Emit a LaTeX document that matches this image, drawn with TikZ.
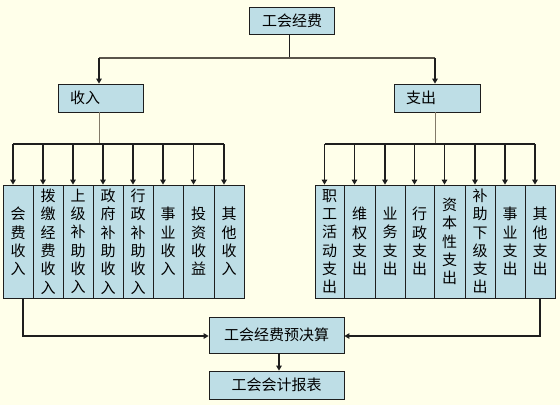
\documentclass[tikz,border=0pt]{standalone}
\usepackage{fontspec}
\newfontfamily\cjk{Noto Sans CJK SC}
\usetikzlibrary{arrows.meta,calc}
\definecolor{bgc}{RGB}{255,255,234}
\definecolor{boxc}{RGB}{190,222,230}
\definecolor{lnc}{RGB}{30,30,30}
\definecolor{stemc}{RGB}{130,122,105}
\begin{document}
\begin{tikzpicture}[x=1pt,y=-1pt,
  hbox/.style={draw=lnc,line width=0.8pt,fill=boxc,inner sep=0pt,font=\cjk\fontsize{15}{18}\selectfont},
  vbox/.style={draw=lnc,line width=0.8pt,fill=boxc,inner sep=0pt,minimum height=113pt,align=center,font=\cjk\fontsize{15}{18.3}\selectfont},
  bus/.style={draw=lnc,line width=1.2pt},
  stem/.style={draw=stemc,line width=1pt},
  arr/.style={draw=lnc,line width=1.6pt,-{Triangle[length=5pt,width=5.5pt]}},
  harr/.style={draw=lnc,line width=1.3pt,-{Triangle[length=5pt,width=5.5pt]}}]
\fill[bgc] (0,0) rectangle (560,405);
\useasboundingbox (0,0) rectangle (560,405);
% top
\node[hbox,minimum width=85pt,minimum height=27pt] (top) at (292,20.5) {工会经费};
\node[hbox,minimum height=28pt,text width=61pt,align=left,inner xsep=12pt] (shouru) at (100.5,98) {收入};
\node[hbox,minimum height=28pt,text width=62pt,align=left,inner xsep=12pt] (zhichu) at (437,98) {支出};
% income
\node[vbox,minimum width=30pt] (i1) at (18,241.5) {会\\费\\收\\入};
\node[vbox,minimum width=30pt] (i2) at (48,241.5) {拨\\缴\\经\\费\\收\\入};
\node[vbox,minimum width=30pt] (i3) at (78,241.5) {上\\级\\补\\助\\收\\入};
\node[vbox,minimum width=30pt] (i4) at (108,241.5) {政\\府\\补\\助\\收\\入};
\node[vbox,minimum width=30pt] (i5) at (138,241.5) {行\\政\\补\\助\\收\\入};
\node[vbox,minimum width=30pt] (i6) at (168,241.5) {事\\业\\收\\入};
\node[vbox,minimum width=31pt] (i7) at (198.5,241.5) {投\\资\\收\\益};
\node[vbox,minimum width=30pt] (i8) at (229,241.5) {其\\他\\收\\入};
% expense
\node[vbox,minimum width=29pt] (e1) at (329.5,241.5) {职\\工\\活\\动\\支\\出};
\node[vbox,minimum width=31pt] (e2) at (359.5,241.5) {维\\权\\支\\出};
\node[vbox,minimum width=30pt] (e3) at (390,241.5) {业\\务\\支\\出};
\node[vbox,minimum width=29pt] (e4) at (419.5,241.5) {行\\政\\支\\出};
\node[vbox,minimum width=31pt] (e5) at (449.5,241.5) {资\\本\\性\\支\\出};
\node[vbox,minimum width=30pt] (e6) at (480,241.5) {补\\助\\下\\级\\支\\出};
\node[vbox,minimum width=30pt] (e7) at (510,241.5) {事\\业\\支\\出};
\node[vbox,minimum width=30pt] (e8) at (540,241.5) {其\\他\\支\\出};
% bottom
\node[hbox,minimum width=135pt,minimum height=36pt] (ys) at (276.5,335) {工会经费预决算};
\node[hbox,minimum width=135pt,minimum height=28pt] (bb) at (276.5,385) {工会会计报表};
% connectors top
\coordinate (tb) at (289,58);
\draw[stem,draw=lnc] ([xshift=-3pt]top.south) -- (tb);
\draw[bus,draw=stemc!60!lnc] ([xshift=-1.5pt]shouru.north |- tb) -- ([xshift=-2pt]zhichu.north |- tb);
\draw[arr] ([xshift=-1.5pt]shouru.north |- tb) -- ([xshift=-1.5pt]shouru.north);
\draw[arr] ([xshift=-2pt]zhichu.north |- tb) -- ([xshift=-2pt]zhichu.north);
% income bus
\coordinate (ib) at (99,144);
\draw[stem] ([xshift=-1.5pt]shouru.south) -- (ib);
\draw[bus] ([xshift=-5pt]i1.north |- ib) -- ([xshift=-5pt]i8.north |- ib);
\foreach \k in {1,...,8} \draw[arr] ([xshift=-5pt]i\k.north |- ib) -- ([xshift=-5pt]i\k.north);
% expense bus
\coordinate (eb) at (435,144);
\draw[stem] ([xshift=-2pt]zhichu.south) -- (eb);
\draw[bus] ([xshift=-5pt]e1.north |- eb) -- ([xshift=-5pt]e8.north |- eb);
\foreach \k in {1,...,8} \draw[arr] ([xshift=-5pt]e\k.north |- eb) -- ([xshift=-5pt]e\k.north);
% bottom connectors
\draw[harr] ([xshift=5pt]i1.south) |- ([yshift=-1pt]ys.west);
\draw[harr] (e8.south) |- ([yshift=-1pt]ys.east);
\draw[harr] ([xshift=2.5pt]ys.south) -- ([xshift=2.5pt]bb.north);
\end{tikzpicture}
\end{document}
